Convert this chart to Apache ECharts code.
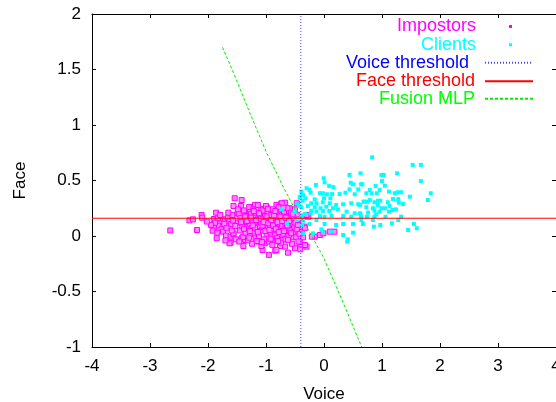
<!DOCTYPE html>
<html><head><meta charset="utf-8">
<script src="https://cdn.jsdelivr.net/npm/echarts@6/dist/echarts.min.js"></script>
<style>html,body{margin:0;padding:0;background:#fff}#c{width:556px;height:402px}</style>
</head><body><div id="c"></div>
<script>
const xAxisName = 'Voice';
const yAxisName = 'Face';
const seriesNames = ['Impostors', 'Clients', 'Voice threshold', 'Face threshold', 'Fusion MLP'];

const impostors = [
[-2.65,0.05],[-2.32,0.14],[-2.26,0.15],[-2.11,0.19],[-2.10,0.165],[-2.19,0.054],[-1.86,0.21],[-1.90,0.153],[-1.77,0.15],[-1.71,0.15],
[-1.66,0.16],[-1.58,0.19],[-1.63,0.13],[-1.80,0.114],[-1.81,0.093],[-1.74,0.09],[-1.60,0.108],[-1.90,0.07],[-1.92,0.048],[-1.77,0.06],
[-1.74,0.039],[-1.69,0.003],[-1.61,-0.006],[-1.56,0.015],[-1.61,-0.06],[-1.56,0.27],[-1.54,0.34],[-1.42,0.324],[-1.43,0.27],[-1.28,0.259],
[-1.19,0.28],[-1.09,0.243],[-0.99,0.259],[-0.82,0.28],[-0.74,0.29],[-0.67,0.30],[-0.74,0.24],[-0.64,0.219],[-0.47,0.295],[-0.90,0.228],
[-1.36,0.219],[-1.49,0.205],[-1.56,0.024],[-1.42,-0.02],[-1.36,-0.036],[-1.13,-0.05],[-1.02,-0.066],[-0.84,-0.042],[-0.73,-0.036],[-0.64,0.009],
[-0.56,-0.006],[-0.47,0.024],[-0.50,-0.11],[-0.67,-0.096],[-0.76,-0.09],[-0.84,-0.132],[-1.06,-0.126],[-1.39,-0.09],[-0.41,-0.096],[-0.41,-0.051],
[-0.57,0.084],[-1.63,-0.066],[-0.82,-0.126],[-0.30,-0.096],[-0.16,-0.006],[-0.07,0.009],[0.18,0.039],[-0.42,0.039],[-1.83,0.16],
[-0.59,0.25],[-0.50,0.22],[-0.56,0.174],[-0.47,0.129],[-0.36,0.174],[-0.27,0.174],[-0.33,0.084],[-0.38,0.039],[-0.53,-0.012],[-0.36,-0.012],
[-0.33,-0.081],[-0.21,-0.006],[0.10,0.039],[-0.73,0.295],[-0.30,0.19],[-0.44,0.099],[-0.33,0.07],[-0.01,0.024],[-0.41,-0.12],[-0.62,-0.15],[-0.95,-0.17],
[-1.50,0.12],[-1.47,0.20],[-1.45,0.05],[-1.44,0.16],[-1.41,0.09],[-1.40,-0.01],[-1.38,0.23],[-1.37,0.13],[-1.35,0.03],[-1.34,0.18],
[-1.32,0.08],[-1.31,-0.04],[-1.30,0.15],[-1.29,0.26],[-1.28,0.11],[-1.27,0.02],[-1.26,0.20],[-1.25,0.07],[-1.24,-0.07],[-1.23,0.14],
[-1.22,0.24],[-1.21,0.04],[-1.20,0.17],[-1.19,0.10],[-1.18,-0.02],[-1.17,0.21],[-1.16,0.13],[-1.15,0.06],[-1.14,0.28],[-1.13,0.16],
[-1.12,0.00],[-1.11,0.09],[-1.10,0.19],[-1.09,0.12],[-1.08,-0.09],[-1.07,0.05],[-1.06,0.23],[-1.05,0.15],[-1.04,0.08],[-1.03,-0.03],
[-1.02,0.18],[-1.01,0.11],[-1.00,0.27],[-0.99,0.02],[-0.98,0.14],[-0.97,0.07],[-0.96,0.21],[-0.95,-0.05],[-0.94,0.16],[-0.93,0.10],
[-0.92,0.03],[-0.91,0.19],[-0.90,0.13],[-0.89,-0.08],[-0.88,0.24],[-0.87,0.06],[-0.86,0.15],[-0.85,0.09],[-0.84,0.01],[-0.83,0.20],
[-0.82,0.12],[-0.81,-0.02],[-0.80,0.17],[-0.79,0.07],[-0.78,0.26],[-0.77,0.11],[-0.76,0.04],[-0.75,0.14],[-0.74,-0.06],[-0.73,0.19],
[-0.72,0.09],[-0.71,0.02],[-0.70,0.15],[-0.69,0.22],[-0.68,0.06],[-0.67,0.12],[-0.66,-0.03],[-0.65,0.17],[-0.64,0.08],[-0.63,0.25],
[-0.62,0.13],[-0.61,0.00],[-0.60,0.18],[-0.59,0.10],[-0.58,0.05],[-0.57,0.21],[-0.56,0.14],[-0.55,-0.07],[-0.54,0.11],[-0.53,0.03],
[-0.52,0.16],[-0.51,0.08],[-0.50,0.24],[-0.49,0.12],[-0.48,-0.01],[-0.47,0.06],[-0.46,0.19],[-0.45,0.10],[-0.44,-0.05],[-0.43,0.15],[-0.42,0.02],
[-1.33,0.135],[-1.28,0.045],[-1.26,0.165],[-1.19,0.075],[-1.17,0.145],[-1.14,0.035],[-1.12,0.205],[-1.09,0.155],[-1.06,0.095],[-1.04,0.125],
[-1.01,0.045],[-0.99,0.175],[-0.96,0.115],[-0.94,0.055],[-0.91,0.145],[-0.88,0.095],[-0.86,0.185],[-0.83,0.065],[-0.80,0.125],[-0.78,0.035],
[-0.75,0.175],[-0.72,0.135],[-0.69,0.045],[-0.66,0.165],[-0.63,0.095],[-0.60,0.135],[-0.57,0.025],[-1.23,0.095],[-1.38,0.065],[-1.43,0.125],
[-1.36,0.175],[-1.21,0.225],[-0.97,0.245],[-0.84,0.225],[-0.70,0.255],[-0.54,0.195],[-1.16,-0.045],[-0.92,-0.025],[-0.79,-0.045],[-0.62,-0.035],
[-1.29,-0.015],[-1.07,-0.055],
[-1.88,0.12],[-1.84,0.03],[-1.79,0.19],[-1.72,0.11],[-1.68,0.07],[-1.65,0.21],[-1.59,0.05],[-1.57,0.14],[-1.53,0.09],[-1.52,-0.03],
[-1.48,0.24],[-1.46,-0.05],[-1.70,-0.04],[-1.95,0.10],[-2.02,0.13],[-1.85,-0.02]
];

const clients = [
[-0.005,0.52],[0.01,0.484],[-0.14,0.46],[-0.30,0.43],[0.09,0.45],[0.16,0.44],[0.44,0.55],[0.63,0.565],[0.46,0.48],[0.50,0.466],
[0.64,0.466],[0.59,0.42],[0.44,0.42],[-0.25,0.414],[-0.23,0.39],[-0.36,0.37],[-0.07,0.385],[-0.02,0.385],[0.05,0.376],[0.14,0.378],
[0.27,0.378],[0.37,0.39],[0.53,0.376],[-0.42,0.345],[-0.32,0.34],[-0.16,0.33],[0.0,0.34],[0.11,0.34],[-0.37,0.318],[-0.22,0.295],
[-0.13,0.295],[-0.02,0.304],[0.10,0.295],[0.21,0.28],[0.33,0.286],[0.47,0.295],[0.59,0.286],[0.68,0.309],[-0.47,0.295],[-0.43,0.27],
[-0.28,0.27],[-0.16,0.259],[-0.06,0.25],[0.04,0.264],[0.155,0.25],[0.24,0.24],[0.39,0.219],[0.53,0.205],[0.62,0.205],[-0.22,0.228],
[-0.13,0.219],[-0.02,0.225],[0.09,0.225],[-0.23,0.205],[-0.33,0.198],[-0.39,0.18],[-0.07,0.18],[0.01,0.174],[0.13,0.183],[0.33,0.18],
[0.47,0.174],[0.64,0.174],[-0.36,0.138],[-0.13,0.144],[-0.25,0.108],[0.01,0.108],[0.21,0.099],[0.33,0.108],[0.50,0.108],[-0.045,0.06],
[-0.02,0.039],[0.13,0.039],[0.50,0.03],[0.33,0.009],[0.41,-0.03],[0.40,-0.051],[-0.47,0.144],[-0.39,0.259],[-0.49,0.219],[-0.41,0.354],
[-0.51,0.219],[-0.64,0.114],[-0.38,0.099],[-0.355,0.024],[-0.73,0.24],[-0.38,0.369],[-0.39,0.40],[-0.19,0.024],
[0.83,0.709],[0.99,0.55],[1.03,0.55],[1.26,0.565],[1.53,0.64],[1.67,0.64],[1.67,0.495],[1.00,0.495],[0.66,0.466],[1.05,0.453],
[0.89,0.45],[0.79,0.414],[0.96,0.414],[0.73,0.385],[0.82,0.385],[0.91,0.385],[1.12,0.40],[1.22,0.385],[1.27,0.394],[1.33,0.394],
[1.48,0.354],[1.84,0.385],[0.70,0.309],[0.75,0.309],[0.79,0.324],[0.87,0.304],[0.93,0.318],[0.97,0.318],[1.10,0.304],[1.19,0.333],
[1.28,0.333],[1.29,0.30],[1.36,0.288],[1.79,0.324],[0.62,0.28],[0.73,0.259],[0.845,0.25],[0.93,0.28],[0.99,0.25],[1.05,0.25],
[1.13,0.27],[1.18,0.234],[1.24,0.24],[0.96,0.219],[0.87,0.228],[0.76,0.21],[1.12,0.219],[0.90,0.195],[0.63,0.195],[0.74,0.174],
[0.87,0.174],[1.06,0.174],[1.33,0.174],[0.645,0.144],[0.845,0.144],[1.28,0.144],[0.67,0.108],[0.97,0.099],[0.86,0.084],[1.17,0.114],
[1.55,0.108],[1.60,0.07],[1.45,0.054]
];

const voiceThreshold = [[-0.4, -1], [-0.4, 2]];
const faceThreshold = [[-4, 0.16], [4, 0.16]];
const fusionMLP = [[-1.75,1.70],[-1.56,1.47],[-1.28,1.11],[-0.99,0.75],[-0.70,0.44],[-0.50,0.24],[-0.36,0.14],[-0.01,-0.19],[0.33,-0.60],[0.65,-1.0]];

const FONT = 'Liberation Sans';
const FS = 17;
const colors = ['#ff00ff', '#00ffff', '#0000ff', '#ff0000', '#00ff00'];

const chart = echarts.init(document.getElementById('c'), null, {renderer: 'canvas'});

function axisCommon(extra) {
  return Object.assign({
    type: 'value',
    axisLine: {show: true, onZero: false, lineStyle: {color: '#000', width: 1}},
    axisTick: {show: true, inside: true, length: 4, lineStyle: {color: '#000'}},
    splitLine: {show: false},
    axisLabel: {color: '#000', fontSize: FS, fontFamily: FONT},
    nameTextStyle: {color: '#000', fontSize: FS, fontFamily: FONT}
  }, extra);
}

const legendRows = [26.5, 44.8, 62.8, 81.2, 98.8];
const legendTextPad = [28, 28, 11, 5, 5];
const legends = seriesNames.map((n, i) => {
  const isPoint = i < 2;
  return {
    data: [n],
    orient: 'horizontal',
    align: 'right',
    right: isPoint ? 44 : 22,
    top: legendRows[i] - 9,
    padding: 0,
    itemWidth: isPoint ? 3 : 48,
    itemHeight: isPoint ? 3 : 2,
    selectedMode: false,
    itemStyle: isPoint ? {borderWidth: 0, color: colors[i]} : {opacity: 0},
    textStyle: {color: colors[i], fontSize: 18, fontFamily: FONT, padding: [0, legendTextPad[i], 0, 0]}
  };
});

chart.setOption({
  animation: false,
  backgroundColor: '#fff',
  grid: {left: 92, right: 0, top: 14, bottom: 55, containLabel: false, outerBoundsMode: 'none'},
  legend: legends,
  xAxis: [
    axisCommon({min: -4, max: 4, interval: 1, position: 'bottom', name: xAxisName, nameLocation: 'middle', nameGap: 39,
      axisLabel: {color: '#000', fontSize: FS, fontFamily: FONT, margin: 11}}),
    axisCommon({min: -4, max: 4, interval: 1, position: 'top', axisLabel: {show: false}})
  ],
  yAxis: [
    axisCommon({min: -1, max: 2, interval: 0.5, position: 'left', name: yAxisName, nameLocation: 'middle', nameGap: 63,
      axisLabel: {color: '#000', fontSize: FS, fontFamily: FONT, margin: 11}}),
    axisCommon({min: -1, max: 2, interval: 0.5, position: 'right', axisLabel: {show: false}})
  ],
  series: [
    {name: seriesNames[0], type: 'scatter', data: impostors, symbol: 'rect', symbolSize: 5,
      itemStyle: {color: '#ff88ff', borderColor: '#ff00ff', borderWidth: 1, opacity: 1}},
    {name: seriesNames[1], type: 'scatter', data: clients, symbol: 'rect', symbolSize: 4,
      itemStyle: {color: '#00ffff', opacity: 1}},
    {name: seriesNames[2], type: 'line', data: voiceThreshold, symbol: 'none', silent: true,
      lineStyle: {color: '#4444ff', width: 1, type: [1, 2]}, itemStyle: {color: '#4444ff'}},
    {name: seriesNames[3], type: 'line', data: faceThreshold, symbol: 'none', silent: true,
      lineStyle: {color: '#ff0000', width: 1}, itemStyle: {color: '#ff0000'}},
    {name: seriesNames[4], type: 'line', data: fusionMLP, symbol: 'none', silent: true,
      lineStyle: {color: '#00ee00', width: 1, type: [3, 2]}, itemStyle: {color: '#00ee00'}}
  ]
});
</script>
</body></html>
